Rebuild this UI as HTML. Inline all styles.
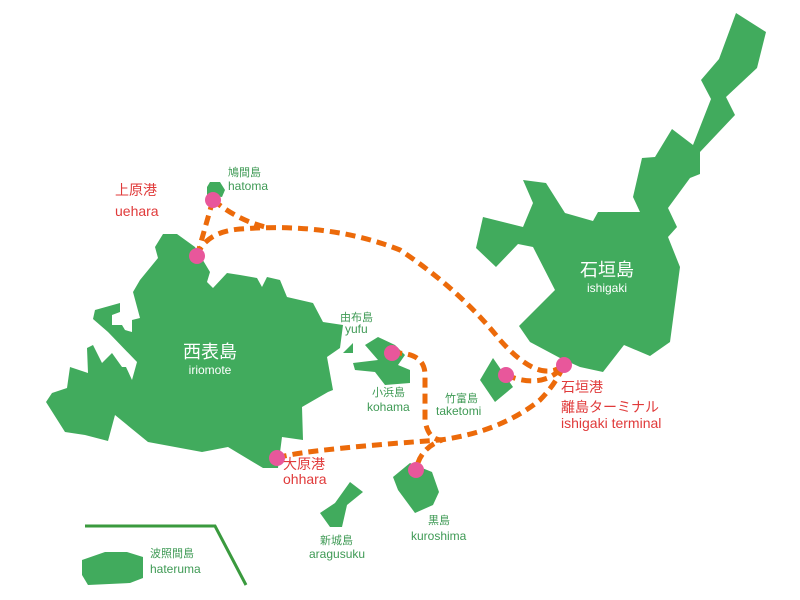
<!DOCTYPE html>
<html><head><meta charset="utf-8"><style>
html,body{margin:0;padding:0;background:#fff;width:800px;height:600px;overflow:hidden}
svg{display:block}
text{font-family:"Liberation Sans","Noto Sans CJK JP",sans-serif}
.g{fill:#3f9a55;font-size:12px}
.gj{fill:#3f9a55;font-size:11px}
.r{fill:#e03a3a;font-size:14px}
.w{fill:#fff}
</style></head><body>
<svg width="800" height="600" viewBox="0 0 800 600">
<g fill="#41ab5d">
<!-- Ishigaki -->
<polygon points="736,13 766,32 757,68 726,97 735,115 700,152 700,174 690,178 668,208 677,227 668,237 680,267 670,342 650,356 624,345 603,372 580,367 560,358 530,342 519,326 555,290 533,247 518,244 496,267 476,248 483,217 523,227 533,203 523,180 546,183 565,213 593,221 598,212 640,212 633,197 642,158 655,157 672,129 693,145 711,99 701,80 719,59"/>
<!-- Iriomote -->
<polygon points="163,234 177,234 195,247 210,272 207,282 213,288 227,273 240,275 257,278 262,287 267,277 280,280 287,297 313,303 323,322 343,325 340,348 327,357 333,390 328,392 302,407 303,440 282,437 278,468 263,468 228,447 202,452 148,442 115,415 108,441 85,435 65,432 46,402 52,393 67,388 70,367 88,373 87,348 93,345 102,363 112,353 122,367 126,367 132,380 137,362 108,332 93,319 95,310 120,303 120,312 112,315 112,325 122,325 125,330 132,332 132,320 140,318 133,292 140,280 158,258 155,247"/>
<!-- Hatoma -->
<polygon points="207,187 210,182 220,182 225,190 222,197 207,195"/>
<!-- Yufu -->
<polygon points="343,353 353,343 353,353"/>
<!-- Kohama -->
<polygon points="365,345 378,337 395,345 405,355 398,365 410,370 410,383 385,385 375,372 355,370 353,363 378,360"/>
<!-- Taketomi -->
<polygon points="480,380 493,358 513,387 495,402"/>
<!-- Kuroshima -->
<polygon points="393,477 410,463 432,472 439,492 433,505 415,513 398,490"/>
<!-- Aragusuku -->
<polygon points="320,513 335,503 350,482 363,492 347,505 342,527 330,527"/>
<!-- Hateruma -->
<polygon points="82,560 105,552 127,552 143,557 143,578 130,583 88,585 82,575"/>
</g>
<polyline points="85,526 215,526 246,585" fill="none" stroke="#3a9a3e" stroke-width="3"/>
<g fill="none" stroke="#ec6a0a" stroke-width="5" stroke-dasharray="10,6">
<path d="M197,256 L213,200"/>
<path d="M213,200 Q240,222 270,228"/>
<path d="M197,256 Q205,232 240,229 Q330,222 400,250 Q460,290 500,340 Q540,385 564,365"/>
<path d="M506,375 Q530,385 548,378 Q560,372 564,365"/>
<path d="M277,458 Q300,450 440,440 Q500,432 540,400 Q555,385 564,365"/>
<path d="M392,353 Q425,352 425,375 L425,420 Q428,440 442,440 Q420,448 416,470"/>
</g>
<g fill="#e8579b">
<circle cx="213" cy="200" r="8"/><circle cx="197" cy="256" r="8"/>
<circle cx="392" cy="353" r="8"/><circle cx="506" cy="375" r="8"/>
<circle cx="564" cy="365" r="8"/><circle cx="277" cy="458" r="8"/>
<circle cx="416" cy="470" r="8"/>
</g>
<text class="gj" x="228" y="176">鳩間島</text><text class="g" x="228" y="190">hatoma</text>
<text class="r" x="115" y="195">上原港</text><text class="r" x="115" y="216">uehara</text>
<text class="w" x="210" y="358" font-size="18" text-anchor="middle">西表島</text>
<text class="w" x="210" y="374" font-size="12" text-anchor="middle">iriomote</text>
<text class="gj" x="340" y="321">由布島</text><text class="g" x="345" y="333">yufu</text>
<text class="gj" x="372" y="396">小浜島</text><text class="g" x="367" y="411">kohama</text>
<text class="gj" x="445" y="402">竹富島</text><text class="g" x="436" y="415">taketomi</text>
<text class="r" x="561" y="392">石垣港</text>
<text class="r" x="561" y="412">離島ターミナル</text>
<text class="r" x="561" y="428">ishigaki terminal</text>
<text class="w" x="607" y="276" font-size="18" text-anchor="middle">石垣島</text>
<text class="w" x="607" y="292" font-size="12" text-anchor="middle">ishigaki</text>
<text class="r" x="283" y="469">大原港</text><text class="r" x="283" y="484">ohhara</text>
<text class="gj" x="428" y="524">黒島</text><text class="g" x="411" y="540">kuroshima</text>
<text class="gj" x="320" y="544">新城島</text><text class="g" x="309" y="558">aragusuku</text>
<text class="gj" x="150" y="557">波照間島</text><text class="g" x="150" y="573">hateruma</text>
</svg>
</body></html>
